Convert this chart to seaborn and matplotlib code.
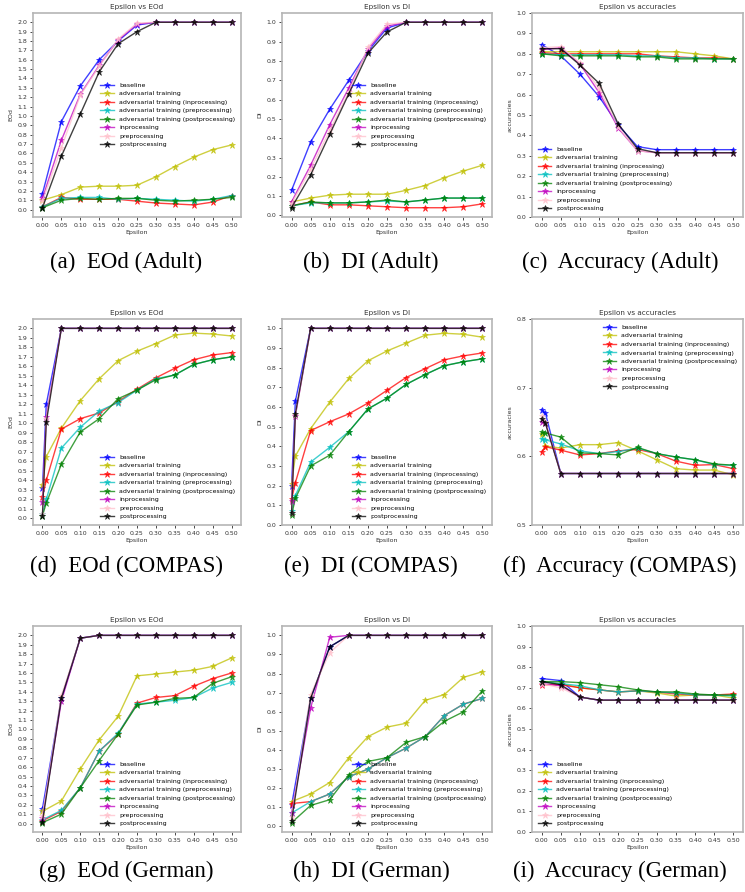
import matplotlib
matplotlib.use("Agg")
import matplotlib.pyplot as plt
import seaborn as sns
import numpy as np

# x values (epsilon)
eps = [0.00, 0.05, 0.10, 0.15, 0.20, 0.25, 0.30, 0.35, 0.40, 0.45, 0.50]
eps_compas = [0.00, 0.01, 0.05, 0.10, 0.15, 0.20, 0.25, 0.30, 0.35, 0.40, 0.45, 0.50]
eps_ticks = [0.00, 0.05, 0.10, 0.15, 0.20, 0.25, 0.30, 0.35, 0.40, 0.45, 0.50]

methods = ["baseline", "adversarial training", "adversarial training (inprocessing)",
           "adversarial training (preprocessing)", "adversarial training (postprocessing)",
           "inprocessing", "preprocessing", "postprocessing"]
colors = ["b", "y", "r", "c", "g", "m", "pink", "k"]

# ---- Adult ----
adult_eod = [
    [0.17, 0.94, 1.32, 1.60, 1.80, 1.97, 2.0, 2.0, 2.0, 2.0, 2.0],
    [0.10, 0.16, 0.24, 0.25, 0.25, 0.26, 0.35, 0.46, 0.56, 0.64, 0.69],
    [0.03, 0.13, 0.11, 0.11, 0.11, 0.09, 0.07, 0.06, 0.05, 0.08, 0.15],
    [0.03, 0.12, 0.13, 0.13, 0.11, 0.12, 0.11, 0.10, 0.09, 0.11, 0.15],
    [0.02, 0.10, 0.12, 0.11, 0.12, 0.12, 0.10, 0.09, 0.10, 0.11, 0.13],
    [0.12, 0.74, 1.23, 1.54, 1.81, 1.98, 2.0, 2.0, 2.0, 2.0, 2.0],
    [0.09, 0.66, 1.22, 1.53, 1.82, 1.99, 2.0, 2.0, 2.0, 2.0, 2.0],
    [0.02, 0.57, 1.02, 1.47, 1.77, 1.90, 2.0, 2.0, 2.0, 2.0, 2.0],
]
adult_di = [
    [0.13, 0.38, 0.55, 0.70, 0.85, 0.97, 1.0, 1.0, 1.0, 1.0, 1.0],
    [0.07, 0.09, 0.105, 0.11, 0.11, 0.11, 0.13, 0.155, 0.195, 0.23, 0.26],
    [0.05, 0.07, 0.055, 0.055, 0.05, 0.045, 0.04, 0.04, 0.04, 0.045, 0.06],
    [0.05, 0.065, 0.065, 0.065, 0.07, 0.075, 0.07, 0.08, 0.09, 0.09, 0.09],
    [0.05, 0.07, 0.065, 0.065, 0.07, 0.08, 0.07, 0.08, 0.09, 0.09, 0.09],
    [0.07, 0.26, 0.47, 0.66, 0.86, 0.98, 1.0, 1.0, 1.0, 1.0, 1.0],
    [0.06, 0.24, 0.44, 0.64, 0.87, 0.99, 1.0, 1.0, 1.0, 1.0, 1.0],
    [0.04, 0.21, 0.42, 0.63, 0.84, 0.95, 1.0, 1.0, 1.0, 1.0, 1.0],
]
adult_acc = [
    [0.845, 0.79, 0.70, 0.59, 0.45, 0.345, 0.33, 0.33, 0.33, 0.33, 0.33],
    [0.81, 0.81, 0.81, 0.81, 0.81, 0.81, 0.81, 0.81, 0.80, 0.79, 0.775],
    [0.805, 0.80, 0.80, 0.80, 0.80, 0.80, 0.79, 0.785, 0.78, 0.78, 0.775],
    [0.80, 0.795, 0.795, 0.795, 0.795, 0.79, 0.79, 0.78, 0.78, 0.775, 0.775],
    [0.80, 0.79, 0.79, 0.79, 0.79, 0.785, 0.785, 0.775, 0.775, 0.775, 0.775],
    [0.82, 0.83, 0.75, 0.61, 0.435, 0.325, 0.315, 0.315, 0.315, 0.315, 0.315],
    [0.83, 0.835, 0.755, 0.63, 0.44, 0.325, 0.315, 0.315, 0.315, 0.315, 0.315],
    [0.825, 0.825, 0.745, 0.655, 0.455, 0.335, 0.315, 0.315, 0.315, 0.315, 0.315],
]

# ---- COMPAS ----
compas_eod = [
    [0.32, 1.20, 2.0, 2.0, 2.0, 2.0, 2.0, 2.0, 2.0, 2.0, 2.0, 2.0],
    [0.35, 0.65, 0.95, 1.24, 1.47, 1.66, 1.76, 1.84, 1.93, 1.95, 1.94, 1.92],
    [0.23, 0.40, 0.94, 1.05, 1.11, 1.23, 1.36, 1.48, 1.58, 1.67, 1.72, 1.745],
    [0.05, 0.20, 0.74, 0.96, 1.13, 1.22, 1.35, 1.47, 1.51, 1.62, 1.67, 1.70],
    [0.03, 0.16, 0.57, 0.91, 1.05, 1.26, 1.35, 1.46, 1.51, 1.62, 1.67, 1.70],
    [0.17, 1.07, 2.0, 2.0, 2.0, 2.0, 2.0, 2.0, 2.0, 2.0, 2.0, 2.0],
    [0.05, 1.05, 2.0, 2.0, 2.0, 2.0, 2.0, 2.0, 2.0, 2.0, 2.0, 2.0],
    [0.03, 1.01, 2.0, 2.0, 2.0, 2.0, 2.0, 2.0, 2.0, 2.0, 2.0, 2.0],
]
compas_di = [
    [0.20, 0.63, 1.0, 1.0, 1.0, 1.0, 1.0, 1.0, 1.0, 1.0, 1.0, 1.0],
    [0.21, 0.35, 0.49, 0.625, 0.745, 0.835, 0.885, 0.925, 0.965, 0.975, 0.97, 0.955],
    [0.13, 0.215, 0.48, 0.525, 0.565, 0.62, 0.685, 0.75, 0.795, 0.84, 0.86, 0.875],
    [0.07, 0.15, 0.32, 0.395, 0.475, 0.59, 0.645, 0.715, 0.765, 0.81, 0.83, 0.845],
    [0.05, 0.135, 0.30, 0.355, 0.475, 0.59, 0.645, 0.715, 0.765, 0.81, 0.83, 0.845],
    [0.12, 0.555, 1.0, 1.0, 1.0, 1.0, 1.0, 1.0, 1.0, 1.0, 1.0, 1.0],
    [0.06, 0.56, 1.0, 1.0, 1.0, 1.0, 1.0, 1.0, 1.0, 1.0, 1.0, 1.0],
    [0.06, 0.565, 1.0, 1.0, 1.0, 1.0, 1.0, 1.0, 1.0, 1.0, 1.0, 1.0],
]
compas_acc = [
    [0.668, 0.663, 0.575, 0.575, 0.575, 0.575, 0.575, 0.575, 0.575, 0.575, 0.575, 0.575],
    [0.632, 0.615, 0.612, 0.617, 0.617, 0.620, 0.608, 0.595, 0.582, 0.580, 0.580, 0.573],
    [0.606, 0.614, 0.609, 0.602, 0.604, 0.608, 0.610, 0.604, 0.593, 0.587, 0.588, 0.582],
    [0.625, 0.624, 0.618, 0.608, 0.604, 0.607, 0.612, 0.604, 0.599, 0.595, 0.588, 0.587],
    [0.635, 0.634, 0.628, 0.605, 0.604, 0.602, 0.613, 0.604, 0.599, 0.595, 0.589, 0.587],
    [0.650, 0.649, 0.575, 0.575, 0.575, 0.575, 0.575, 0.575, 0.575, 0.575, 0.575, 0.575],
    [0.659, 0.650, 0.575, 0.575, 0.575, 0.575, 0.575, 0.575, 0.575, 0.575, 0.575, 0.575],
    [0.655, 0.648, 0.575, 0.575, 0.575, 0.575, 0.575, 0.575, 0.575, 0.575, 0.575, 0.575],
]

# ---- German ----
german_eod = [
    [0.16, 1.33, 1.97, 2.0, 2.0, 2.0, 2.0, 2.0, 2.0, 2.0, 2.0],
    [0.13, 0.24, 0.58, 0.89, 1.14, 1.57, 1.59, 1.61, 1.63, 1.67, 1.76],
    [0.03, 0.13, 0.38, 0.77, 0.95, 1.28, 1.34, 1.36, 1.46, 1.54, 1.60],
    [0.04, 0.14, 0.38, 0.77, 0.96, 1.27, 1.29, 1.31, 1.34, 1.44, 1.50],
    [0.01, 0.10, 0.38, 0.67, 0.95, 1.26, 1.29, 1.33, 1.34, 1.49, 1.56],
    [0.06, 1.30, 1.97, 2.0, 2.0, 2.0, 2.0, 2.0, 2.0, 2.0, 2.0],
    [0.08, 1.36, 1.97, 2.0, 2.0, 2.0, 2.0, 2.0, 2.0, 2.0, 2.0],
    [0.02, 1.33, 1.97, 2.0, 2.0, 2.0, 2.0, 2.0, 2.0, 2.0, 2.0],
]
german_di = [
    [0.11, 0.67, 0.94, 1.0, 1.0, 1.0, 1.0, 1.0, 1.0, 1.0, 1.0],
    [0.13, 0.17, 0.23, 0.36, 0.47, 0.52, 0.54, 0.66, 0.69, 0.78, 0.81],
    [0.12, 0.13, 0.17, 0.26, 0.30, 0.36, 0.41, 0.47, 0.58, 0.64, 0.67],
    [0.07, 0.13, 0.17, 0.26, 0.30, 0.36, 0.41, 0.47, 0.58, 0.64, 0.67],
    [0.02, 0.11, 0.14, 0.27, 0.34, 0.36, 0.44, 0.47, 0.55, 0.60, 0.71],
    [0.07, 0.62, 0.99, 1.0, 1.0, 1.0, 1.0, 1.0, 1.0, 1.0, 1.0],
    [0.05, 0.69, 0.91, 1.0, 1.0, 1.0, 1.0, 1.0, 1.0, 1.0, 1.0],
    [0.03, 0.67, 0.94, 1.0, 1.0, 1.0, 1.0, 1.0, 1.0, 1.0, 1.0],
]
german_acc = [
    [0.745, 0.735, 0.655, 0.64, 0.64, 0.64, 0.64, 0.64, 0.64, 0.64, 0.64],
    [0.73, 0.72, 0.70, 0.69, 0.68, 0.685, 0.675, 0.66, 0.665, 0.665, 0.65],
    [0.715, 0.715, 0.70, 0.69, 0.68, 0.685, 0.68, 0.67, 0.665, 0.665, 0.67],
    [0.73, 0.72, 0.71, 0.69, 0.68, 0.685, 0.68, 0.675, 0.665, 0.665, 0.66],
    [0.73, 0.73, 0.725, 0.715, 0.705, 0.69, 0.68, 0.68, 0.67, 0.665, 0.665],
    [0.72, 0.71, 0.655, 0.64, 0.64, 0.64, 0.64, 0.64, 0.64, 0.64, 0.64],
    [0.72, 0.70, 0.655, 0.64, 0.64, 0.64, 0.64, 0.64, 0.64, 0.64, 0.64],
    [0.73, 0.715, 0.655, 0.64, 0.64, 0.64, 0.64, 0.64, 0.64, 0.64, 0.64],
]

W, H = 745, 892
fig = plt.figure(figsize=(W / 100, H / 100), dpi=100)

col_left = [33, 282, 532]
col_width = [208, 210, 211]
row_top = [13, 319, 626]
row_height = [204, 206, 206]
caption_y = [262, 566, 871]
caption_x = [126, 371, 620]

panels = [
    # (data, x, metric, legend loc, caption)
    [(adult_eod, eps, "EOd", "center right", "(a)  EOd (Adult)"),
     (adult_di, eps, "DI", "center right", "(b)  DI (Adult)"),
     (adult_acc, eps, "accuracies", "lower left", "(c)  Accuracy (Adult)")],
    [(compas_eod, eps_compas, "EOd", "lower right", "(d)  EOd (COMPAS)"),
     (compas_di, eps_compas, "DI", "lower right", "(e)  DI (COMPAS)"),
     (compas_acc, eps_compas, "accuracies", "upper right", "(f)  Accuracy (COMPAS)")],
    [(german_eod, eps, "EOd", "lower right", "(g)  EOd (German)"),
     (german_di, eps, "DI", "lower right", "(h)  DI (German)"),
     (german_acc, eps, "accuracies", "lower left", "(i)  Accuracy (German)")],
]

small = 4.5
grey = "#333333"

for r in range(3):
    for c in range(3):
        data, xs, metric, loc, caption = panels[r][c]
        ax = fig.add_axes([col_left[c] / W, 1 - (row_top[r] + row_height[r]) / H,
                           col_width[c] / W, row_height[r] / H])
        for vals, name, col in zip(data, methods, colors):
            sns.lineplot(x=xs, y=vals, ax=ax, color=col, marker="*", markersize=5,
                         markeredgecolor=col, markeredgewidth=0.5, linewidth=1.0,
                         alpha=0.75, label=name, legend=False)
        ax.set_title("Epsilon vs " + metric, fontsize=5.2, color=grey, pad=3)
        ax.set_ylabel(metric, fontsize=small, color=grey, labelpad=3)
        ax.set_xlabel("Epsilon", fontsize=small, color=grey, labelpad=2)
        ax.set_xticks(eps_ticks)
        ax.set_xticklabels([f"{t:.2f}" for t in eps_ticks])
        if metric == "EOd":
            ax.set_yticks(np.round(np.arange(0, 2.01, 0.1), 1))
        elif metric == "DI":
            ax.set_yticks(np.round(np.arange(0, 1.01, 0.1), 1))
        else:
            if r == 1:
                ax.set_ylim(0.5, 0.8)
                ax.set_yticks([0.5, 0.6, 0.7, 0.8])
            else:
                ax.set_ylim(0, 1)
                ax.set_yticks(np.round(np.arange(0, 1.01, 0.1), 1))
        ax.tick_params(labelsize=small, labelcolor=grey, length=2, width=0.5, pad=2)
        for s in ax.spines.values():
            s.set_color("#b5b5b5")
            s.set_linewidth(1.2)
        ax.legend(loc=loc, fontsize=small, frameon=False, handlelength=2.2)
        fig.text(caption_x[c] / W, 1 - caption_y[r] / H, caption, ha="center", va="center",
                 fontsize=16.5, family="Liberation Serif")

fig.savefig("out.png", dpi=100)
